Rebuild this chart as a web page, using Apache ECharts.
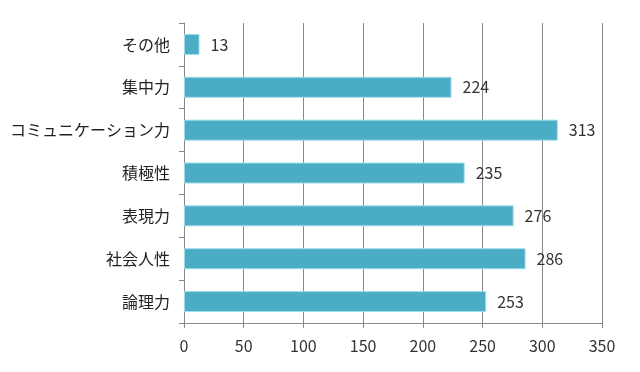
<!DOCTYPE html>
<html><head><meta charset="utf-8">
<script src="https://cdn.jsdelivr.net/npm/echarts@6/dist/echarts.min.js"></script>
<style>html,body{margin:0;padding:0;background:#fff}#c{width:640px;height:372px}</style>
</head><body><div id="c"></div>
<script>
const categories = ['論理力','社会人性','表現力','積極性','コミュニケーション力','集中力','その他'];
const values = [253,286,276,235,313,224,13];
const xTicks = [0,50,100,150,200,250,300,350];

const chart = echarts.init(document.getElementById('c'));
chart.setOption({
  animation:false,
  backgroundColor:'#fff',
  grid:{left:184,right:38,top:23,bottom:49,containLabel:false},
  xAxis:{type:'value',min:0,max:350,interval:50,
    axisLine:{show:true,lineStyle:{color:'#888'}},
    axisTick:{show:true,length:5,lineStyle:{color:'#888'}},
    splitLine:{show:true,lineStyle:{color:'#888',width:1}},
    axisLabel:{color:'#333',fontSize:16,fontFamily:'Noto Sans CJK JP',margin:15}},
  yAxis:{type:'category',data:categories,
    axisLine:{show:true,lineStyle:{color:'#888'}},
    axisTick:{show:true,length:5,lineStyle:{color:'#888'}},
    axisLabel:{color:'#222',fontSize:16,fontFamily:'Noto Sans CJK JP',margin:14}},
  series:[{type:'bar',data:values,barWidth:21,
    itemStyle:{color:'#4BACC6',borderColor:'#9EDCEA',borderWidth:1},
    label:{show:true,position:'right',distance:11,color:'#333',fontSize:16,fontFamily:'Noto Sans CJK JP'}}]
});
</script></body></html>
